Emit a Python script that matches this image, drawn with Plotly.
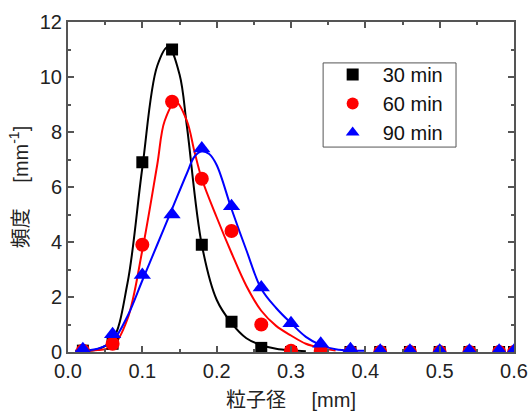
import plotly.graph_objects as go

# measured points
x_pts = [0.02, 0.06, 0.10, 0.14, 0.18, 0.22, 0.26, 0.30, 0.34, 0.38, 0.42, 0.46, 0.50, 0.54, 0.58, 0.60]
y30 = [0.05, 0.3, 6.9, 11.0, 3.9, 1.1, 0.15, 0.0, 0.0, 0.0, 0.0, 0.0, 0.0, 0.0, 0.0, 0.0]
y60 = [0.05, 0.3, 3.9, 9.1, 6.3, 4.4, 1.0, 0.05, 0.05, 0.0, 0.0, 0.0, 0.0, 0.0, 0.0, 0.0]
y90 = [0.1, 0.65, 2.8, 5.0, 7.4, 5.3, 2.35, 1.05, 0.3, 0.1, 0.05, 0.05, 0.05, 0.05, 0.05, 0.05]

# fitted curves
cx30 = [0.01, 0.04, 0.06, 0.08, 0.10, 0.12, 0.135, 0.15, 0.16, 0.18, 0.20, 0.22, 0.24, 0.26, 0.28, 0.30, 0.32]
cy30 = [0.05, 0.1, 0.45, 2.5, 6.7, 10.4, 11.1, 10.1, 8.2, 3.9, 1.9, 1.05, 0.5, 0.25, 0.12, 0.06, 0.03]
cx60 = [0.01, 0.04, 0.06, 0.08, 0.10, 0.12, 0.13, 0.145, 0.16, 0.17, 0.18, 0.20, 0.22, 0.24, 0.26, 0.28, 0.30, 0.32, 0.34, 0.36]
cy60 = [0.05, 0.07, 0.2, 1.2, 3.7, 6.8, 8.4, 9.1, 8.4, 7.3, 6.3, 4.9, 3.6, 2.4, 1.5, 0.95, 0.6, 0.3, 0.15, 0.05]
cx90 = [0.01, 0.04, 0.06, 0.08, 0.10, 0.12, 0.14, 0.16, 0.17, 0.18, 0.19, 0.20, 0.22, 0.24, 0.26, 0.28, 0.30, 0.32, 0.34, 0.36, 0.38, 0.40]
cy90 = [0.05, 0.12, 0.4, 1.3, 2.6, 3.9, 5.2, 6.5, 7.1, 7.3, 7.2, 6.8, 5.2, 3.7, 2.3, 1.6, 1.05, 0.55, 0.25, 0.1, 0.05, 0.05]

labels = ["30 min", "60 min", "90 min"]
colors = ["#000000", "#ff0000", "#0000ff"]
symbols = ["square", "circle", "triangle-up"]
sizes = [12, 14, 15]

fig = go.Figure()
for cx, cy, c in [(cx30, cy30, colors[0]), (cx60, cy60, colors[1]), (cx90, cy90, colors[2])]:
    fig.add_trace(go.Scatter(x=cx, y=cy, mode="lines", line=dict(color=c, width=2, shape="spline", smoothing=1.0),
                             showlegend=False, hoverinfo="skip"))
for ys, lab, c, s, sz in zip([y30, y60, y90], labels, colors, symbols, sizes):
    fig.add_trace(go.Scatter(x=x_pts, y=ys, mode="markers", name=lab,
                             marker=dict(color=c, symbol=s, size=sz, line=dict(width=0))))

tick_font = dict(family="Liberation Sans, Arial, sans-serif", size=20, color="#222222")
title_font = dict(family="Liberation Sans, Noto Sans CJK JP, sans-serif", size=20, color="#222222")
axis_common = dict(
    showline=True, linecolor="#555555", linewidth=2, mirror="ticks",
    ticks="inside", ticklen=6, tickwidth=1.5, tickcolor="#555555",
    showgrid=False, zeroline=False, automargin=False,
    tickfont=tick_font,
)
fig.update_xaxes(range=[0, 0.6], dtick=0.1, tickformat=".1f",
                 minor=dict(ticks="inside", ticklen=3, tickcolor="#555555", dtick=0.05),
                 title=dict(text="粒子径　 [mm]", font=title_font, standoff=16),
                 **axis_common)
fig.update_yaxes(range=[0, 12], dtick=2,
                 minor=dict(ticks="inside", ticklen=3, tickcolor="#555555", dtick=1),
                 title=dict(text="頻度　 [mm<sup>-1</sup>]", font=title_font, standoff=6),
                 **axis_common)

# legend frame drawn as a shape so its size matches the reference box
fig.add_shape(type="rect", xref="paper", yref="paper", x0=0.572, x1=0.870, y0=0.621, y1=0.876,
              line=dict(color="#555555", width=1), fillcolor="rgba(0,0,0,0)", layer="above")

fig.update_layout(
    width=531, height=411,
    margin=dict(l=68, r=17, t=22, b=59),
    plot_bgcolor="white", paper_bgcolor="white",
    legend=dict(x=0.571, y=0.90, xanchor="left", yanchor="top",
                borderwidth=0, bgcolor="rgba(0,0,0,0)",
                font=dict(family="Liberation Sans, Arial, sans-serif", size=20, color="#111111"),
                itemsizing="constant", tracegroupgap=0, itemwidth=50),
    showlegend=True,
)
# remove the browser's default 8px body margin so the figure fills the window exactly
fig.write_html("out.html", config={"displayModeBar": False},
               post_script="document.body.style.margin='0';document.body.style.overflow='hidden';")
